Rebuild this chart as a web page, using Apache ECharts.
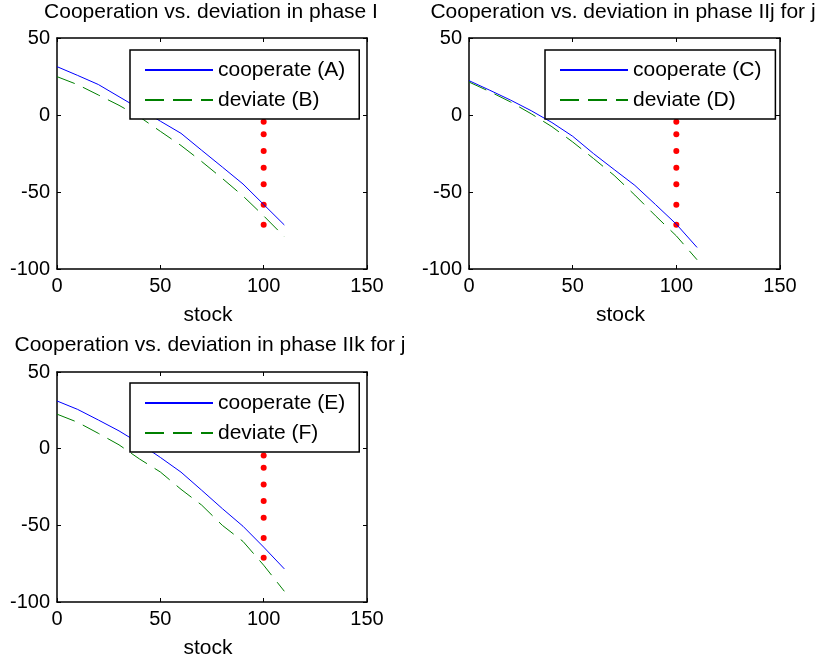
<!DOCTYPE html>
<html>
<head>
<meta charset="utf-8">
<script src="https://cdn.jsdelivr.net/npm/echarts@6/dist/echarts.min.js"></script>
<style>
html,body{margin:0;padding:0;background:#fff;}
#c{width:821px;height:661px;}
</style>
</head>
<body>
<div id="c"></div>
<script>
// ---- data ----
const stock = [0, 10, 20, 30, 40, 50, 60, 70, 80, 90, 100, 110];
const coopA = [31.4, 25.7, 19.8, 11.9, 4.0, -4.0, -11.9, -22.9, -33.8, -44.8, -58.1, -71.4];
const devB  = [24.9, 19.7, 13.0, 6.3, -1.3, -10.6, -19.8, -30.2, -41.2, -52.6, -65.5, -79.0];
const coopC = [22.3, 16.1, 9.7, 2.8, -4.9, -13.8, -25.0, -35.4, -45.7, -58.2, -70.9, -86.0];
const devD  = [21.4, 15.2, 8.5, 0.8, -7.6, -17.5, -28.2, -39.2, -52.0, -65.5, -78.5, -94.0];
const coopE = [31.1, 25.6, 18.7, 11.6, 3.4, -5.7, -15.3, -27.1, -39.1, -50.6, -64.2, -78.4];
const devF  = [22.5, 17.2, 10.0, 2.5, -6.8, -15.2, -26.5, -36.8, -50.0, -60.5, -76.0, -93.0];
const dotStock = 100;
const dotValues = [-4.4, -12.5, -23.4, -34.2, -45.0, -58.2, -71.2];
const titles = [
  'Cooperation vs. deviation in phase I',
  'Cooperation vs. deviation in phase IIj for j',
  'Cooperation vs. deviation in phase IIk for j'
];
const coopNames = ['cooperate (A)', 'cooperate (C)', 'cooperate (E)'];
const devNames = ['deviate (B)', 'deviate (D)', 'deviate (F)'];
const coopSeries = [coopA, coopC, coopE];
const devSeries = [devB, devD, devF];
const xLabelName = 'stock';
const xMin = 0, xMax = 150, xStep = 50;
const yMin = -100, yMax = 50, yStep = 50;

// ---- layout ----
const FONT = "'Liberation Sans', Arial, Helvetica, sans-serif";
const FS = 20;
const FS_T = 21;
const grids = [
  {left: 57, top: 38, width: 310, height: 231},
  {left: 469, top: 38, width: 311, height: 231},
  {left: 57, top: 372, width: 310, height: 230}
];
const titlePos = [{x: 211, y: 2}, {x: 623, y: 2}, {x: 210, y: 335}];
const legendPos = [{x: 130, y: 50}, {x: 545, y: 50}, {x: 130, y: 383}];

const pairs = (ys) => stock.map((s, i) => [s, ys[i]]);
const axisLine = {show: true, onZero: false, lineStyle: {color: '#000', width: 1.5}};
const axisTick = {show: true, inside: true, length: 4, lineStyle: {color: '#000', width: 1}};

const option = {
  animation: false,
  backgroundColor: '#fff',
  textStyle: {fontFamily: FONT},
  title: titles.map((t, i) => ({
    text: t, left: titlePos[i].x, top: titlePos[i].y, textAlign: 'center', padding: 0,
    textStyle: {fontFamily: FONT, fontSize: FS_T, fontWeight: 'normal', color: '#000'}
  })),
  grid: grids.map(g => Object.assign({containLabel: false}, g)),
  xAxis: [],
  yAxis: [],
  legend: [],
  series: []
};

grids.forEach((g, i) => {
  option.xAxis.push({
    type: 'value', gridIndex: i, min: xMin, max: xMax, interval: xStep, position: 'bottom',
    axisLine, axisTick, splitLine: {show: false},
    axisLabel: {color: '#000', fontSize: FS, fontFamily: FONT, margin: 7},
    name: xLabelName, nameLocation: 'middle', nameGap: 36,
    nameTextStyle: {color: '#000', fontSize: FS_T, fontFamily: FONT, padding: [0, 8, 0, 0]}
  });
  option.xAxis.push({
    type: 'value', gridIndex: i, min: xMin, max: xMax, interval: xStep, position: 'top',
    axisLine, axisTick, splitLine: {show: false}, axisLabel: {show: false}
  });
  option.yAxis.push({
    type: 'value', gridIndex: i, min: yMin, max: yMax, interval: yStep, position: 'left',
    axisLine, axisTick, splitLine: {show: false},
    axisLabel: {color: '#000', fontSize: FS, fontFamily: FONT, margin: 7}
  });
  option.yAxis.push({
    type: 'value', gridIndex: i, min: yMin, max: yMax, interval: yStep, position: 'right',
    axisLine, axisTick, splitLine: {show: false}, axisLabel: {show: false}
  });
  option.series.push({
    name: coopNames[i], type: 'line', xAxisIndex: 2 * i, yAxisIndex: 2 * i,
    data: pairs(coopSeries[i]), symbol: 'none', showSymbol: false,
    lineStyle: {color: '#0000ff', width: 1}, itemStyle: {color: '#0000ff'}
  });
  option.series.push({
    name: devNames[i], type: 'line', xAxisIndex: 2 * i, yAxisIndex: 2 * i,
    data: pairs(devSeries[i]), symbol: 'none', showSymbol: false,
    lineStyle: {color: '#008000', width: 1, type: [19, 9]}, itemStyle: {color: '#008000'}
  });
  option.series.push({
    name: 'threshold' + (i + 1), type: 'scatter', xAxisIndex: 2 * i, yAxisIndex: 2 * i,
    data: dotValues.map(v => [dotStock, v]), symbol: 'circle', symbolSize: 6,
    itemStyle: {color: '#ff0000', opacity: 1}
  });
  option.legend.push({
    data: [coopNames[i], devNames[i]], orient: 'vertical',
    left: legendPos[i].x, top: legendPos[i].y,
    itemWidth: 68, itemHeight: 20, itemGap: 9,
    padding: [9.5, 14, 8.5, 14],
    backgroundColor: '#fff', borderColor: '#000', borderWidth: 1.5,
    selectedMode: false,
    itemStyle: {opacity: 0, color: 'rgba(0,0,0,0)', borderWidth: 0},
    textStyle: {color: '#000', fontSize: FS_T, fontFamily: FONT}
  });
});

const chart = echarts.init(document.getElementById('c'), null, {renderer: 'canvas'});
chart.setOption(option);
</script>
</body>
</html>
